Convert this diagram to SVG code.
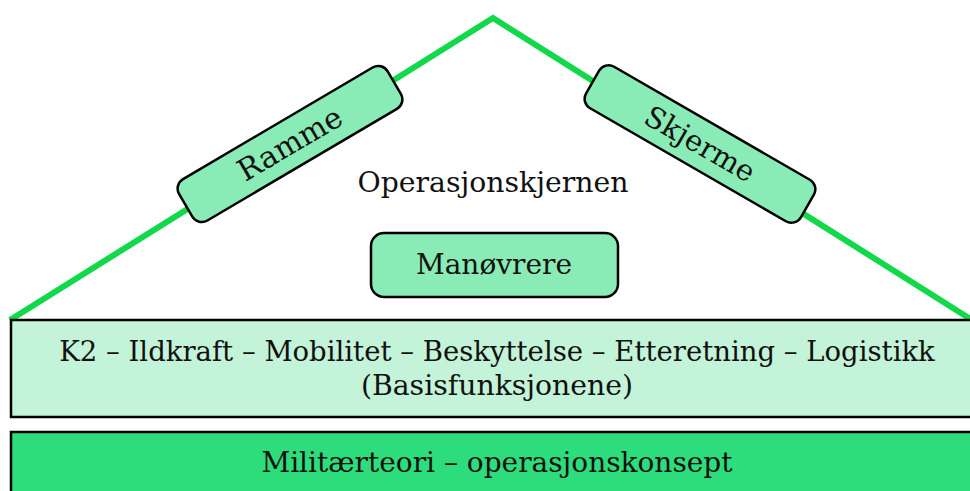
<svg xmlns="http://www.w3.org/2000/svg" width="970" height="491" viewBox="0 0 970 491">
<style>
  text { font-family: "DejaVu Serif", "Liberation Serif", serif; fill: #111; text-anchor: middle; }
  .roof { fill: none; stroke: #11d94a; stroke-width: 6; stroke-linejoin: miter; }
  .pill { fill: #89ebb5; stroke: #000; stroke-width: 2.5; }
  .band { stroke: #000; stroke-width: 2.5; }
</style>
<rect width="970" height="491" fill="#fff"/>
<g id="connectors">
  <polyline class="roof" points="10,320 493,18 972,320"/>
</g>
<g id="ramme">
  <g transform="translate(290,144) rotate(-30.5)">
    <rect class="pill" x="-121" y="-24" width="242" height="48" rx="11"/>
    <text x="0" y="10" font-size="30">Ramme</text>
  </g>
</g>
<g id="skjerme">
  <g transform="translate(700,144) rotate(30)">
    <rect class="pill" x="-124" y="-24" width="248" height="48" rx="11"/>
    <text x="0" y="10" font-size="29">Skjerme</text>
  </g>
</g>
<g id="operasjonskjernen">
  <text x="493" y="192" font-size="28.3">Operasjonskjernen</text>
</g>
<g id="manovrere">
  <rect class="pill" x="371" y="233" width="247" height="64" rx="13"/>
  <text x="494" y="274" font-size="28">Manøvrere</text>
</g>
<g id="basisfunksjoner">
  <rect class="band" x="11" y="320" width="970" height="97" fill="#c3f3d8"/>
  <text x="497" y="361" font-size="27.5">K2 – Ildkraft – Mobilitet – Beskyttelse – Etteretning – Logistikk</text>
  <text x="497" y="395" font-size="28.3">(Basisfunksjonene)</text>
</g>
<g id="militaerteori">
  <rect class="band" x="11" y="432" width="970" height="70" fill="#2ddd7c"/>
  <text x="497" y="472" font-size="28">Militærteori – operasjonskonsept</text>
</g>
</svg>
